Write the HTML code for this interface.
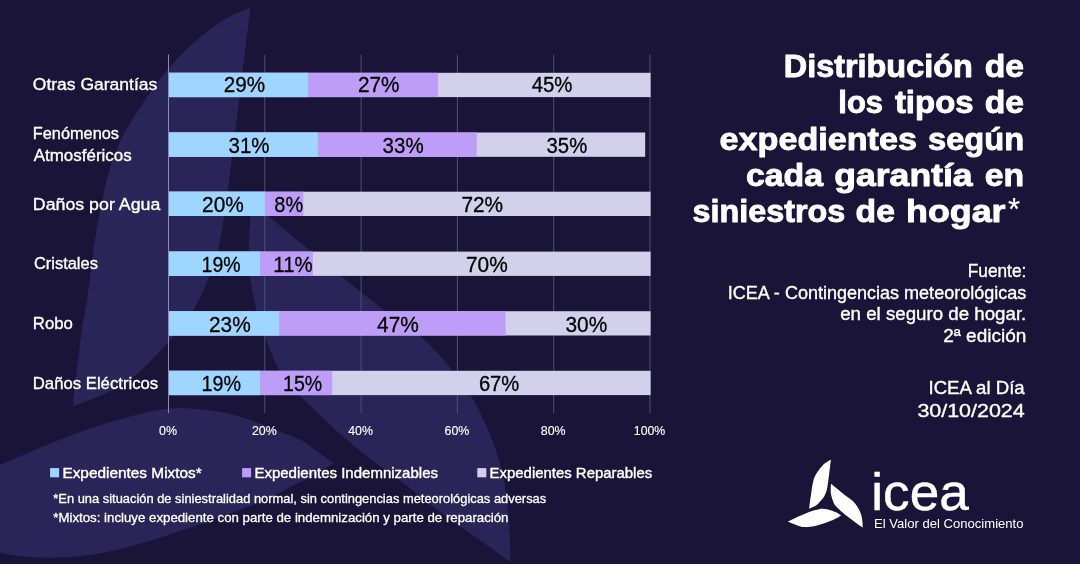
<!DOCTYPE html>
<html lang="es">
<head>
<meta charset="utf-8">
<title>Distribución de los tipos de expedientes</title>
<style>
html,body{margin:0;padding:0;background:#1a1438;}
body{width:1080px;height:564px;overflow:hidden;font-family:"Liberation Sans",sans-serif;}
svg{display:block;font-family:"Liberation Sans",sans-serif;will-change:transform;}
</style>
</head>
<body>
<svg width="1080" height="564" viewBox="0 0 1080 564">
<rect x="0" y="0" width="1080" height="564" fill="#1a1438"/>
<path d="M250.6 7.1 C249.7 14.4 246.6 38.9 245.1 51.0 C243.6 63.1 242.8 69.3 241.5 80.0 C240.2 90.7 238.6 103.3 237.2 115.0 C235.8 126.7 234.2 138.3 232.8 150.0 C231.4 161.7 229.9 174.0 228.5 185.0 C227.1 196.0 226.1 204.8 224.3 216.0 C222.5 227.2 220.0 242.0 217.5 252.0 C215.0 262.0 213.6 266.2 209.5 276.0 C205.4 285.8 198.8 301.2 193.0 311.0 C187.2 320.8 180.6 327.8 175.0 334.6 C169.4 341.4 165.1 345.8 159.2 352.0 C153.2 358.2 146.8 365.7 139.3 371.9 C131.9 378.1 125.5 383.5 114.5 389.3 C103.5 395.1 79.9 403.7 73.0 406.6 C73.2 403.9 73.5 397.5 74.2 390.6 C75.0 383.7 76.2 375.1 77.5 365.0 C78.8 354.9 80.2 340.8 81.8 330.0 C83.4 319.2 84.8 315.0 87.0 300.0 C89.2 285.0 92.5 256.7 95.0 240.0 C97.5 223.3 99.7 212.5 102.3 200.0 C104.9 187.5 107.7 175.0 110.8 165.0 C113.9 155.0 117.0 148.3 121.0 140.0 C125.0 131.7 130.8 122.0 135.0 115.0 C139.2 108.0 142.4 103.8 146.5 97.9 C150.6 92.0 153.8 86.7 159.5 79.5 C165.2 72.3 173.9 62.3 181.0 55.0 C188.1 47.7 195.0 41.5 202.0 35.7 C209.0 29.9 215.0 25.2 223.1 20.4 C231.2 15.6 246.0 9.3 250.6 7.1 Z" fill="#2a2559"/>
<path d="M253.0 203.0 C255.6 205.2 258.9 208.1 268.7 216.3 C278.5 224.5 299.6 242.1 311.6 252.0 C323.6 261.9 328.6 266.1 340.9 276.0 C353.2 285.9 372.6 301.4 385.6 311.3 C398.7 321.2 410.6 328.7 419.2 335.6 C427.8 342.6 431.9 347.1 437.5 353.0 C443.1 358.9 447.2 364.2 452.7 371.2 C458.2 378.2 465.4 386.9 470.5 395.0 C475.6 403.1 479.8 412.4 483.4 420.0 C487.0 427.6 489.5 433.2 492.3 440.4 C495.1 447.6 497.7 454.9 500.0 463.4 C502.3 471.9 504.4 481.7 505.9 491.5 C507.4 501.3 508.2 512.7 508.9 522.1 C509.6 531.5 510.0 541.1 510.2 547.7 C510.4 554.4 510.3 559.6 510.3 562.0 C507.8 560.2 502.1 556.0 495.4 551.2 C488.7 546.4 479.9 540.1 470.3 533.3 C460.7 526.5 448.8 518.6 438.0 510.5 C427.2 502.4 416.7 493.1 405.3 484.4 C393.9 475.7 380.6 466.9 369.5 458.3 C358.4 449.7 347.2 440.2 338.5 432.5 C329.8 424.8 323.5 418.2 317.0 412.0 C310.5 405.8 305.6 401.7 299.5 395.0 C293.4 388.3 286.2 381.8 280.4 372.0 C274.6 362.2 268.7 346.0 264.8 336.0 C260.9 326.0 259.5 322.0 257.0 312.0 C254.5 302.0 251.2 286.0 249.8 276.0 C248.4 266.0 248.7 261.9 248.8 252.0 C248.9 242.1 249.8 224.5 250.5 216.3 C251.2 208.1 252.6 205.2 253.0 203.0 Z" fill="#2a2559"/>
<path d="M334.0 463.2 C330.2 460.5 316.5 450.9 311.0 447.0 C305.5 443.1 306.2 442.6 301.0 440.0 C295.8 437.4 288.7 434.9 280.0 431.5 C271.3 428.1 259.3 422.8 248.9 419.5 C238.5 416.2 228.8 413.5 217.8 411.6 C206.8 409.7 193.4 408.2 183.0 408.0 C172.6 407.8 166.7 408.4 155.6 410.5 C144.5 412.6 129.7 416.6 116.7 420.3 C103.7 424.0 90.8 428.1 77.8 432.8 C64.8 437.5 51.9 442.9 38.9 448.3 C25.9 453.7 13.2 459.2 0.0 465.0 C-13.2 470.8 -27.5 477.3 -40.0 483.0 C-52.5 488.7 -64.7 494.2 -75.0 499.0 C-85.3 503.8 -97.5 509.8 -102.0 512.0 C-97.5 514.0 -84.8 519.8 -75.0 524.0 C-65.2 528.2 -55.5 532.2 -43.0 537.0 C-30.5 541.8 -12.3 549.3 0.0 552.6 C12.3 555.9 20.4 556.2 30.6 557.0 C40.8 557.8 49.2 558.3 61.1 557.6 C73.0 556.9 88.3 555.4 101.9 553.0 C115.5 550.6 129.0 546.8 142.6 543.0 C156.2 539.2 170.4 534.3 183.3 530.0 C196.2 525.7 209.6 520.9 220.0 517.2 C230.4 513.5 237.9 510.7 245.9 507.6 C253.9 504.5 260.6 501.8 267.9 498.4 C275.2 495.0 282.6 491.0 289.9 487.3 C297.2 483.6 304.5 480.3 311.9 476.3 C319.2 472.3 330.3 465.4 334.0 463.2 Z" fill="#2a2559"/>
<rect x="168.00" y="54.5" width="1" height="358.5" fill="#8f8da4"/>
<rect x="264.30" y="54.5" width="1" height="358.5" fill="#524e72"/>
<rect x="360.60" y="54.5" width="1" height="358.5" fill="#524e72"/>
<rect x="456.90" y="54.5" width="1" height="358.5" fill="#524e72"/>
<rect x="553.20" y="54.5" width="1" height="358.5" fill="#524e72"/>
<rect x="649.50" y="54.5" width="1" height="358.5" fill="#524e72"/>
<rect x="169.0" y="72.8" width="481.6" height="24.3" fill="#d3d0ec"/>
<rect x="169.0" y="72.8" width="269.1" height="24.3" fill="#bd9df7"/>
<rect x="169.0" y="72.8" width="139.1" height="24.3" fill="#9fd6ff"/>
<text x="223.8" y="91.9" font-size="21.6" textLength="41.4" lengthAdjust="spacingAndGlyphs" fill="#000" stroke="#000" stroke-width="0.30" stroke-linejoin="round">29%</text>
<text x="357.9" y="91.9" font-size="21.6" textLength="41.5" lengthAdjust="spacingAndGlyphs" fill="#000" stroke="#000" stroke-width="0.30" stroke-linejoin="round">27%</text>
<text x="531.7" y="91.9" font-size="21.6" textLength="40.8" lengthAdjust="spacingAndGlyphs" fill="#000" stroke="#000" stroke-width="0.30" stroke-linejoin="round">45%</text>
<rect x="169.0" y="132.5" width="476.2" height="24.3" fill="#d3d0ec"/>
<rect x="169.0" y="132.5" width="307.7" height="24.3" fill="#bd9df7"/>
<rect x="169.0" y="132.5" width="148.8" height="24.3" fill="#9fd6ff"/>
<text x="228.5" y="152.9" font-size="21.6" textLength="41.0" lengthAdjust="spacingAndGlyphs" fill="#000" stroke="#000" stroke-width="0.30" stroke-linejoin="round">31%</text>
<text x="382.6" y="152.9" font-size="21.6" textLength="41.1" lengthAdjust="spacingAndGlyphs" fill="#000" stroke="#000" stroke-width="0.30" stroke-linejoin="round">33%</text>
<text x="546.6" y="152.9" font-size="21.6" textLength="40.6" lengthAdjust="spacingAndGlyphs" fill="#000" stroke="#000" stroke-width="0.30" stroke-linejoin="round">35%</text>
<rect x="169.0" y="191.7" width="481.6" height="24.3" fill="#d3d0ec"/>
<rect x="169.0" y="191.7" width="134.3" height="24.3" fill="#bd9df7"/>
<rect x="169.0" y="191.7" width="95.8" height="24.3" fill="#9fd6ff"/>
<text x="202.1" y="212.3" font-size="21.6" textLength="41.7" lengthAdjust="spacingAndGlyphs" fill="#000" stroke="#000" stroke-width="0.30" stroke-linejoin="round">20%</text>
<text x="274.3" y="212.3" font-size="21.6" textLength="28.8" lengthAdjust="spacingAndGlyphs" fill="#000" stroke="#000" stroke-width="0.30" stroke-linejoin="round">8%</text>
<text x="461.4" y="212.3" font-size="21.6" textLength="41.7" lengthAdjust="spacingAndGlyphs" fill="#000" stroke="#000" stroke-width="0.30" stroke-linejoin="round">72%</text>
<rect x="169.0" y="251.6" width="481.6" height="24.3" fill="#d3d0ec"/>
<rect x="169.0" y="251.6" width="143.9" height="24.3" fill="#bd9df7"/>
<rect x="169.0" y="251.6" width="91.0" height="24.3" fill="#9fd6ff"/>
<text x="201.6" y="271.8" font-size="21.6" textLength="39.0" lengthAdjust="spacingAndGlyphs" fill="#000" stroke="#000" stroke-width="0.30" stroke-linejoin="round">19%</text>
<text x="273.3" y="271.8" font-size="21.6" textLength="39.4" lengthAdjust="spacingAndGlyphs" fill="#000" stroke="#000" stroke-width="0.30" stroke-linejoin="round">11%</text>
<text x="466.0" y="271.8" font-size="21.6" textLength="41.7" lengthAdjust="spacingAndGlyphs" fill="#000" stroke="#000" stroke-width="0.30" stroke-linejoin="round">70%</text>
<rect x="169.0" y="311.2" width="481.6" height="24.3" fill="#d3d0ec"/>
<rect x="169.0" y="311.2" width="336.6" height="24.3" fill="#bd9df7"/>
<rect x="169.0" y="311.2" width="110.2" height="24.3" fill="#9fd6ff"/>
<text x="209.0" y="332.0" font-size="21.6" textLength="41.8" lengthAdjust="spacingAndGlyphs" fill="#000" stroke="#000" stroke-width="0.30" stroke-linejoin="round">23%</text>
<text x="377.1" y="332.0" font-size="21.6" textLength="41.7" lengthAdjust="spacingAndGlyphs" fill="#000" stroke="#000" stroke-width="0.30" stroke-linejoin="round">47%</text>
<text x="565.5" y="332.0" font-size="21.6" textLength="41.8" lengthAdjust="spacingAndGlyphs" fill="#000" stroke="#000" stroke-width="0.30" stroke-linejoin="round">30%</text>
<rect x="169.0" y="370.8" width="481.6" height="24.3" fill="#d3d0ec"/>
<rect x="169.0" y="370.8" width="163.2" height="24.3" fill="#bd9df7"/>
<rect x="169.0" y="370.8" width="91.0" height="24.3" fill="#9fd6ff"/>
<text x="201.5" y="390.9" font-size="21.6" textLength="39.5" lengthAdjust="spacingAndGlyphs" fill="#000" stroke="#000" stroke-width="0.30" stroke-linejoin="round">19%</text>
<text x="283.0" y="390.9" font-size="21.6" textLength="39.2" lengthAdjust="spacingAndGlyphs" fill="#000" stroke="#000" stroke-width="0.30" stroke-linejoin="round">15%</text>
<text x="478.9" y="390.9" font-size="21.6" textLength="40.4" lengthAdjust="spacingAndGlyphs" fill="#000" stroke="#000" stroke-width="0.30" stroke-linejoin="round">67%</text>
<text x="32.8" y="90.1" font-size="16.8" textLength="124.5" lengthAdjust="spacingAndGlyphs" fill="#fff" stroke="#fff" stroke-width="0.35" stroke-linejoin="round">Otras Garantías</text>
<text x="32.8" y="139.2" font-size="16.8" textLength="86.2" lengthAdjust="spacingAndGlyphs" fill="#fff" stroke="#fff" stroke-width="0.35" stroke-linejoin="round">Fenómenos</text>
<text x="33.7" y="161.3" font-size="16.8" textLength="98.0" lengthAdjust="spacingAndGlyphs" fill="#fff" stroke="#fff" stroke-width="0.35" stroke-linejoin="round">Atmosféricos</text>
<text x="32.8" y="209.7" font-size="16.8" textLength="127.5" lengthAdjust="spacingAndGlyphs" fill="#fff" stroke="#fff" stroke-width="0.35" stroke-linejoin="round">Daños por Agua</text>
<text x="33.9" y="269.2" font-size="16.8" textLength="64.0" lengthAdjust="spacingAndGlyphs" fill="#fff" stroke="#fff" stroke-width="0.35" stroke-linejoin="round">Cristales</text>
<text x="32.8" y="328.9" font-size="16.8" textLength="40.1" lengthAdjust="spacingAndGlyphs" fill="#fff" stroke="#fff" stroke-width="0.35" stroke-linejoin="round">Robo</text>
<text x="32.8" y="388.5" font-size="16.8" textLength="125.4" lengthAdjust="spacingAndGlyphs" fill="#fff" stroke="#fff" stroke-width="0.35" stroke-linejoin="round">Daños Eléctricos</text>
<text x="159.0" y="434.7" font-size="12.7" textLength="18.0" lengthAdjust="spacingAndGlyphs" fill="#fff" stroke="#fff" stroke-width="0.12" stroke-linejoin="round">0%</text>
<text x="251.9" y="434.7" font-size="12.7" textLength="24.8" lengthAdjust="spacingAndGlyphs" fill="#fff" stroke="#fff" stroke-width="0.12" stroke-linejoin="round">20%</text>
<text x="348.2" y="434.7" font-size="12.7" textLength="24.8" lengthAdjust="spacingAndGlyphs" fill="#fff" stroke="#fff" stroke-width="0.12" stroke-linejoin="round">40%</text>
<text x="444.5" y="434.7" font-size="12.7" textLength="24.8" lengthAdjust="spacingAndGlyphs" fill="#fff" stroke="#fff" stroke-width="0.12" stroke-linejoin="round">60%</text>
<text x="540.8" y="434.7" font-size="12.7" textLength="24.8" lengthAdjust="spacingAndGlyphs" fill="#fff" stroke="#fff" stroke-width="0.12" stroke-linejoin="round">80%</text>
<text x="633.8" y="434.7" font-size="12.7" textLength="31.5" lengthAdjust="spacingAndGlyphs" fill="#fff" stroke="#fff" stroke-width="0.12" stroke-linejoin="round">100%</text>
<rect x="50.1" y="468.1" width="9.0" height="9.2" fill="#9fd6ff"/>
<text x="62.4" y="477.8" font-size="14.6" textLength="139.4" lengthAdjust="spacingAndGlyphs" fill="#fff" stroke="#fff" stroke-width="0.40" stroke-linejoin="round">Expedientes Mixtos*</text>
<rect x="242.1" y="468.1" width="9.0" height="9.2" fill="#bd9df7"/>
<text x="254.4" y="477.8" font-size="14.6" textLength="183.6" lengthAdjust="spacingAndGlyphs" fill="#fff" stroke="#fff" stroke-width="0.40" stroke-linejoin="round">Expedientes Indemnizables</text>
<rect x="477.3" y="468.1" width="9.0" height="9.2" fill="#d3d0ec"/>
<text x="489.6" y="477.8" font-size="14.6" textLength="162.6" lengthAdjust="spacingAndGlyphs" fill="#fff" stroke="#fff" stroke-width="0.40" stroke-linejoin="round">Expedientes Reparables</text>
<text x="53.3" y="503.0" font-size="13.0" textLength="492.9" lengthAdjust="spacingAndGlyphs" fill="#fff" stroke="#fff" stroke-width="0.30" stroke-linejoin="round">*En una situación de siniestralidad normal, sin contingencias meteorológicas adversas</text>
<text x="53.3" y="521.7" font-size="13.0" textLength="455.2" lengthAdjust="spacingAndGlyphs" fill="#fff" stroke="#fff" stroke-width="0.30" stroke-linejoin="round">*Mixtos: incluye expediente con parte de indemnización y parte de reparación</text>
<text x="783.8" y="77.2" font-size="31.0" font-weight="bold" textLength="188.9" lengthAdjust="spacingAndGlyphs" fill="#fff" stroke="#fff" stroke-width="0.90" stroke-linejoin="round">Distribución</text>
<text x="984.7" y="77.2" font-size="31.0" font-weight="bold" textLength="39.4" lengthAdjust="spacingAndGlyphs" fill="#fff" stroke="#fff" stroke-width="0.90" stroke-linejoin="round">de</text>
<text x="838.3" y="113.4" font-size="31.0" font-weight="bold" textLength="44.7" lengthAdjust="spacingAndGlyphs" fill="#fff" stroke="#fff" stroke-width="0.90" stroke-linejoin="round">los</text>
<text x="894.9" y="113.4" font-size="31.0" font-weight="bold" textLength="78.7" lengthAdjust="spacingAndGlyphs" fill="#fff" stroke="#fff" stroke-width="0.90" stroke-linejoin="round">tipos</text>
<text x="984.7" y="113.4" font-size="31.0" font-weight="bold" textLength="39.4" lengthAdjust="spacingAndGlyphs" fill="#fff" stroke="#fff" stroke-width="0.90" stroke-linejoin="round">de</text>
<text x="719.6" y="149.6" font-size="31.0" font-weight="bold" textLength="197.4" lengthAdjust="spacingAndGlyphs" fill="#fff" stroke="#fff" stroke-width="0.90" stroke-linejoin="round">expedientes</text>
<text x="928.0" y="149.6" font-size="31.0" font-weight="bold" textLength="96.1" lengthAdjust="spacingAndGlyphs" fill="#fff" stroke="#fff" stroke-width="0.90" stroke-linejoin="round">según</text>
<text x="746.0" y="185.8" font-size="31.0" font-weight="bold" textLength="77.1" lengthAdjust="spacingAndGlyphs" fill="#fff" stroke="#fff" stroke-width="0.90" stroke-linejoin="round">cada</text>
<text x="834.2" y="185.8" font-size="31.0" font-weight="bold" textLength="138.5" lengthAdjust="spacingAndGlyphs" fill="#fff" stroke="#fff" stroke-width="0.90" stroke-linejoin="round">garantía</text>
<text x="984.7" y="185.8" font-size="31.0" font-weight="bold" textLength="39.4" lengthAdjust="spacingAndGlyphs" fill="#fff" stroke="#fff" stroke-width="0.90" stroke-linejoin="round">en</text>
<text x="692.5" y="222.0" font-size="31.0" font-weight="bold" textLength="152.7" lengthAdjust="spacingAndGlyphs" fill="#fff" stroke="#fff" stroke-width="0.90" stroke-linejoin="round">siniestros</text>
<text x="855.6" y="222.0" font-size="31.0" font-weight="bold" textLength="39.3" lengthAdjust="spacingAndGlyphs" fill="#fff" stroke="#fff" stroke-width="0.90" stroke-linejoin="round">de</text>
<text x="906.0" y="222.0" font-size="31.0" font-weight="bold" textLength="99.5" lengthAdjust="spacingAndGlyphs" fill="#fff" stroke="#fff" stroke-width="0.90" stroke-linejoin="round">hogar</text>
<text x="1007.9" y="219.7" font-size="31.0" fill="#fff" stroke="#fff" stroke-width="0.20" stroke-linejoin="round">*</text>
<text x="967.8" y="277.1" font-size="17.7" textLength="58.5" lengthAdjust="spacingAndGlyphs" fill="#fff" stroke="#fff" stroke-width="0.35" stroke-linejoin="round">Fuente:</text>
<text x="727.8" y="298.8" font-size="17.7" textLength="298.5" lengthAdjust="spacingAndGlyphs" fill="#fff" stroke="#fff" stroke-width="0.35" stroke-linejoin="round">ICEA - Contingencias meteorológicas</text>
<text x="840.2" y="320.2" font-size="17.7" textLength="186.1" lengthAdjust="spacingAndGlyphs" fill="#fff" stroke="#fff" stroke-width="0.35" stroke-linejoin="round">en el seguro de hogar.</text>
<text x="943.2" y="341.6" font-size="17.7" textLength="83.1" lengthAdjust="spacingAndGlyphs" fill="#fff" stroke="#fff" stroke-width="0.35" stroke-linejoin="round">2ª edición</text>
<text x="928.5" y="394.2" font-size="17.7" textLength="96.2" lengthAdjust="spacingAndGlyphs" fill="#fff" stroke="#fff" stroke-width="0.35" stroke-linejoin="round">ICEA al Día</text>
<text x="917.4" y="416.6" font-size="17.7" textLength="107.3" lengthAdjust="spacingAndGlyphs" fill="#fff" stroke="#fff" stroke-width="0.35" stroke-linejoin="round">30/10/2024</text>
<g transform="translate(800.25 458.93) scale(0.1223)" fill="#fff">
<path d="M250.6 7.1 C249.7 14.4 246.6 38.9 245.1 51.0 C243.6 63.1 242.8 69.3 241.5 80.0 C240.2 90.7 238.6 103.3 237.2 115.0 C235.8 126.7 234.2 138.3 232.8 150.0 C231.4 161.7 229.9 174.0 228.5 185.0 C227.1 196.0 226.1 204.8 224.3 216.0 C222.5 227.2 220.0 242.0 217.5 252.0 C215.0 262.0 213.6 266.2 209.5 276.0 C205.4 285.8 198.8 301.2 193.0 311.0 C187.2 320.8 180.6 327.8 175.0 334.6 C169.4 341.4 165.1 345.8 159.2 352.0 C153.2 358.2 146.8 365.7 139.3 371.9 C131.9 378.1 125.5 383.5 114.5 389.3 C103.5 395.1 79.9 403.7 73.0 406.6 C73.2 403.9 73.5 397.5 74.2 390.6 C75.0 383.7 76.2 375.1 77.5 365.0 C78.8 354.9 80.2 340.8 81.8 330.0 C83.4 319.2 84.8 315.0 87.0 300.0 C89.2 285.0 92.5 256.7 95.0 240.0 C97.5 223.3 99.7 212.5 102.3 200.0 C104.9 187.5 107.7 175.0 110.8 165.0 C113.9 155.0 117.0 148.3 121.0 140.0 C125.0 131.7 130.8 122.0 135.0 115.0 C139.2 108.0 142.4 103.8 146.5 97.9 C150.6 92.0 153.8 86.7 159.5 79.5 C165.2 72.3 173.9 62.3 181.0 55.0 C188.1 47.7 195.0 41.5 202.0 35.7 C209.0 29.9 215.0 25.2 223.1 20.4 C231.2 15.6 246.0 9.3 250.6 7.1 Z"/>
<path d="M253.0 203.0 C255.6 205.2 258.9 208.1 268.7 216.3 C278.5 224.5 299.6 242.1 311.6 252.0 C323.6 261.9 328.6 266.1 340.9 276.0 C353.2 285.9 372.6 301.4 385.6 311.3 C398.7 321.2 410.6 328.7 419.2 335.6 C427.8 342.6 431.9 347.1 437.5 353.0 C443.1 358.9 447.2 364.2 452.7 371.2 C458.2 378.2 465.4 386.9 470.5 395.0 C475.6 403.1 479.8 412.4 483.4 420.0 C487.0 427.6 489.5 433.2 492.3 440.4 C495.1 447.6 497.7 454.9 500.0 463.4 C502.3 471.9 504.4 481.7 505.9 491.5 C507.4 501.3 508.2 512.7 508.9 522.1 C509.6 531.5 510.0 541.1 510.2 547.7 C510.4 554.4 510.3 559.6 510.3 562.0 C507.8 560.2 502.1 556.0 495.4 551.2 C488.7 546.4 479.9 540.1 470.3 533.3 C460.7 526.5 448.8 518.6 438.0 510.5 C427.2 502.4 416.7 493.1 405.3 484.4 C393.9 475.7 380.6 466.9 369.5 458.3 C358.4 449.7 347.2 440.2 338.5 432.5 C329.8 424.8 323.5 418.2 317.0 412.0 C310.5 405.8 305.6 401.7 299.5 395.0 C293.4 388.3 286.2 381.8 280.4 372.0 C274.6 362.2 268.7 346.0 264.8 336.0 C260.9 326.0 259.5 322.0 257.0 312.0 C254.5 302.0 251.2 286.0 249.8 276.0 C248.4 266.0 248.7 261.9 248.8 252.0 C248.9 242.1 249.8 224.5 250.5 216.3 C251.2 208.1 252.6 205.2 253.0 203.0 Z"/>
<path d="M334.0 463.2 C330.2 460.5 316.5 450.9 311.0 447.0 C305.5 443.1 306.2 442.6 301.0 440.0 C295.8 437.4 288.7 434.9 280.0 431.5 C271.3 428.1 259.3 422.8 248.9 419.5 C238.5 416.2 228.8 413.5 217.8 411.6 C206.8 409.7 193.4 408.2 183.0 408.0 C172.6 407.8 166.7 408.4 155.6 410.5 C144.5 412.6 129.7 416.6 116.7 420.3 C103.7 424.0 90.8 428.1 77.8 432.8 C64.8 437.5 51.9 442.9 38.9 448.3 C25.9 453.7 13.2 459.2 0.0 465.0 C-13.2 470.8 -27.5 477.3 -40.0 483.0 C-52.5 488.7 -64.7 494.2 -75.0 499.0 C-85.3 503.8 -97.5 509.8 -102.0 512.0 C-97.5 514.0 -84.8 519.8 -75.0 524.0 C-65.2 528.2 -55.5 532.2 -43.0 537.0 C-30.5 541.8 -12.3 549.3 0.0 552.6 C12.3 555.9 20.4 556.2 30.6 557.0 C40.8 557.8 49.2 558.3 61.1 557.6 C73.0 556.9 88.3 555.4 101.9 553.0 C115.5 550.6 129.0 546.8 142.6 543.0 C156.2 539.2 170.4 534.3 183.3 530.0 C196.2 525.7 209.6 520.9 220.0 517.2 C230.4 513.5 237.9 510.7 245.9 507.6 C253.9 504.5 260.6 501.8 267.9 498.4 C275.2 495.0 282.6 491.0 289.9 487.3 C297.2 483.6 304.5 480.3 311.9 476.3 C319.2 472.3 330.3 465.4 334.0 463.2 Z"/>
</g>
<text x="871.3" y="510.0" font-size="52.5" textLength="97.4" lengthAdjust="spacingAndGlyphs" fill="#fff" stroke="#fff" stroke-width="0.50" stroke-linejoin="round">icea</text>
<text x="874.0" y="528.0" font-size="13.5" textLength="149.5" lengthAdjust="spacingAndGlyphs" fill="#fff">El Valor del Conocimiento</text>
</svg>
</body>
</html>
